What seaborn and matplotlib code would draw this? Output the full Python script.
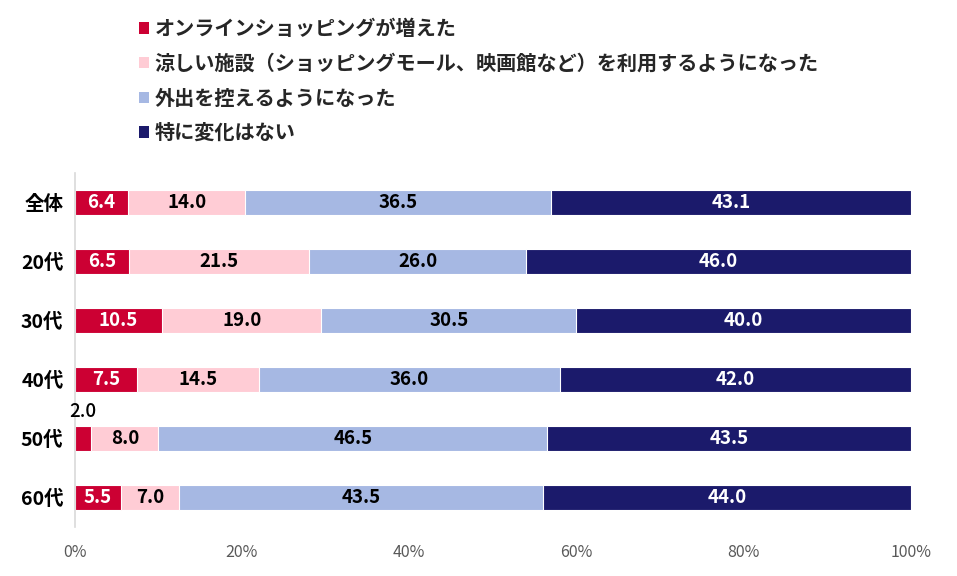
import matplotlib
matplotlib.use("Agg")
import matplotlib.pyplot as plt
import seaborn as sns
import numpy as np
import pandas as pd
from matplotlib.patches import Patch

categories = ["全体", "20代", "30代", "40代", "50代", "60代"]
series_names = [
    "オンラインショッピングが増えた",
    "涼しい施設（ショッピングモール、映画館など）を利用するようになった",
    "外出を控えるようになった",
    "特に変化はない",
]
online = [6.4, 6.5, 10.5, 7.5, 2.0, 5.5]
cool = [14.0, 21.5, 19.0, 14.5, 8.0, 7.0]
stay = [36.5, 26.0, 30.5, 36.0, 46.5, 43.5]
nochange = [43.1, 46.0, 40.0, 42.0, 43.5, 44.0]
xticks = [0, 20, 40, 60, 80, 100]
xtick_labels = ["0%", "20%", "40%", "60%", "80%", "100%"]

colors = ["#CC0033", "#FFCCD5", "#A6B8E3", "#1B1A6B"]
text_colors = ["white", "black", "black", "white"]

sns.set_theme(style="white")
plt.rcParams["font.family"] = ["Noto Sans CJK JP", "DejaVu Sans"]

fig = plt.figure(figsize=(9.57, 5.76), dpi=100)
ax = fig.add_axes([0.078, 0.085, 0.874, 0.615])

values = [online, cool, stay, nochange]
cum = np.cumsum(np.array(values), axis=0)
df = pd.DataFrame({"cat": categories})
# draw from the outermost cumulative total inward
for i in range(3, -1, -1):
    df["v"] = cum[i]
    sns.barplot(data=df, y="cat", x="v", orient="h", color=colors[i],
                width=0.42, ax=ax, edgecolor="white", linewidth=0.8,
                saturation=1)

# labels
for r in range(len(categories)):
    left = 0.0
    for i in range(4):
        v = values[i][r]
        cx = left + v / 2
        if v < 3:
            ax.text(cx, r - 0.45, f"{v:.1f}", ha="center", va="center",
                    fontsize=13.5, fontweight="medium", color="black")
        else:
            ax.text(cx, r, f"{v:.1f}", ha="center", va="center",
                    fontsize=13.5, fontweight="bold", color=text_colors[i])
        left += v

ax.set_xlim(0, 100)
ax.set_ylim(5.5, -0.5)
ax.set_xticks(xticks)
ax.set_xticklabels(xtick_labels, fontsize=11.5, color="#595959")
ax.tick_params(axis="x", length=0, pad=12)
ax.tick_params(axis="y", length=0, pad=8)
ax.set_yticks(range(len(categories)))
ax.set_yticklabels(categories, fontsize=14, fontweight="bold", color="black")
ax.set_xlabel("")
ax.set_ylabel("")
for s in ["top", "right", "bottom"]:
    ax.spines[s].set_visible(False)
ax.spines["left"].set_color("#D9D9D9")
ax.spines["left"].set_linewidth(1.2)

handles = [Patch(facecolor=c, edgecolor="none") for c in colors]
leg = fig.legend(handles, series_names, loc="upper left",
                 bbox_to_anchor=(0.126, 1.0), frameon=False,
                 handlelength=0.5, handleheight=0.5, handletextpad=0.3,
                 labelspacing=0.68, prop={"size": 14.5, "weight": "bold"})

fig.savefig("out.png", dpi=100)
